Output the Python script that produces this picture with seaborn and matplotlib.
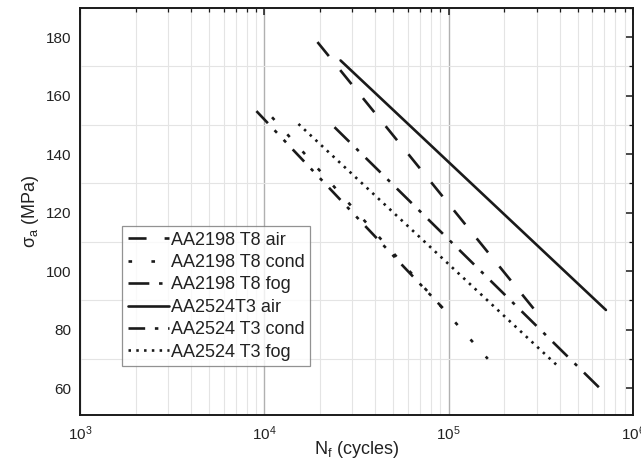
import matplotlib
matplotlib.use("Agg")
import matplotlib.pyplot as plt
import seaborn as sns
import pandas as pd
import numpy as np
from matplotlib.ticker import LogLocator, MultipleLocator, NullFormatter

# ---- data (endpoints of each fitted S-N line) ----
series_names = ["AA2198 T8 air", "AA2198 T8 cond", "AA2198 T8 fog",
                "AA2524T3 air", "AA2524 T3 cond", "AA2524 T3 fog"]
n_2198_air = [19400, 308000]
s_2198_air = [178.3, 85.0]
n_2198_cond = [11000, 163000]
s_2198_cond = [152.6, 70.0]
n_2198_fog = [24000, 695000]
s_2198_fog = [149.2, 58.6]
n_2524_air = [25900, 713000]
s_2524_air = [172.0, 86.7]
n_2524_cond = [9050, 92800]
s_2524_cond = [154.7, 87.4]
n_2524_fog = [15300, 396000]
s_2524_fog = [150.3, 67.2]

n_values = [n_2198_air, n_2198_cond, n_2198_fog, n_2524_air, n_2524_cond, n_2524_fog]
s_values = [s_2198_air, s_2198_cond, s_2198_fog, s_2524_air, s_2524_cond, s_2524_fog]

y_ticks = [60, 80, 100, 120, 140, 160, 180]

# ---- style ----
sns.set_style("white")
plt.rcParams["font.family"] = ["Liberation Sans", "DejaVu Sans"]
plt.rcParams["mathtext.fontset"] = "custom"
plt.rcParams["mathtext.rm"] = "Liberation Sans"
plt.rcParams["mathtext.it"] = "Liberation Sans:italic"
plt.rcParams["mathtext.bf"] = "Liberation Sans:bold"
plt.rcParams["lines.scale_dashes"] = False

styles = [
    (0, (13, 13)),                 # long dash
    (0, (2.6, 13.9)),              # coarse dots
    (0, (15, 7, 2.5, 7)),          # dash dot
    "-",                           # solid
    (0, (12, 7, 2.5, 7, 2.5, 7)),  # dash dot dot
    (0, (1.8, 3.8)),               # fine dots
]

fig = plt.figure(figsize=(6.41, 4.61), dpi=100)
ax = fig.add_axes([0.125, 0.0998, 0.8625, 0.8832])

ink = "#1a1a1a"
for name, n, s, ls in zip(series_names, n_values, s_values, styles):
    df = pd.DataFrame({"N": n, "S": s})
    sns.lineplot(data=df, x="N", y="S", ax=ax, color=ink, linewidth=1.9,
                 linestyle=ls, label=name, dash_capstyle="butt")

ax.set_xscale("log")
ax.set_xlim(1e3, 1e6)
ax.set_ylim(50.8, 190)
ax.set_yticks(y_ticks)
ax.yaxis.set_minor_locator(MultipleLocator(10))
ax.xaxis.set_major_locator(LogLocator(base=10, numticks=10))
ax.xaxis.set_minor_locator(LogLocator(base=10, subs=np.arange(2, 10), numticks=20))
ax.xaxis.set_minor_formatter(NullFormatter())

ax.grid(False)
ax.xaxis.grid(True, which="major", color="#b0b0b0", linewidth=1.0)
ax.xaxis.grid(True, which="minor", color="#e4e4e4", linewidth=0.8)
ax.yaxis.grid(True, which="minor", color="#e4e4e4", linewidth=0.8)
ax.set_axisbelow(True)

for sp in ax.spines.values():
    sp.set_color(ink)
    sp.set_linewidth(1.4)

ax.tick_params(which="both", direction="in", top=True, right=True,
               colors=ink, labelcolor="#222222")
ax.tick_params(which="major", length=5, width=1.1, labelsize=11)
ax.tick_params(axis="y", which="major", pad=6.5)
ax.tick_params(axis="x", which="major", pad=7)
ax.tick_params(which="minor", length=3, width=0.9)

ax.set_xlabel("N$_\\mathrm{f}$ (cycles)", fontsize=13, color="#222222", labelpad=-3)
ax.set_ylabel("σ$_\\mathrm{a}$ (MPa)", fontsize=13, color="#222222", labelpad=3)

leg = ax.legend(loc="lower left", bbox_to_anchor=(0.076, 0.12), borderaxespad=0,
                fontsize=13, handlelength=2.3, handletextpad=0.12,
                labelspacing=0.3, borderpad=0.3, frameon=True, fancybox=False)
leg.get_frame().set_edgecolor("#777777")
leg.get_frame().set_linewidth(0.9)
for t in leg.get_texts():
    t.set_color("#222222")

fig.savefig("out.png", dpi=100)
